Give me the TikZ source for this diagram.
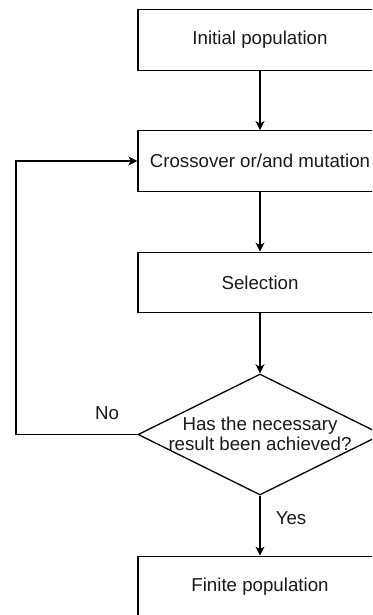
\documentclass[tikz,border=0pt]{standalone}
\usepackage{fontspec}
\setmainfont{Liberation Sans}
\usetikzlibrary{arrows.meta,shapes.geometric}
\begin{document}
\begin{tikzpicture}[x=1pt,y=-1pt,
  every node/.style={font=\fontsize{18.7}{20}\selectfont, text=black!90},
  stepbox/.style={draw=black, line width=1.3pt, minimum width=244pt, minimum height=60.5pt, inner sep=0pt},
  decision/.style={diamond, draw=black, line width=1.3pt, minimum width=244pt, minimum height=121pt, inner sep=0pt},
  flow/.style={draw=black, line width=1.3pt, -{Stealth[length=9pt,width=9pt,inset=2.5pt]}},
  lbl/.style={inner sep=0pt}]
\useasboundingbox (0,0) rectangle (372,615);
\clip (0,0) rectangle (372,615);

\node[stepbox] (init) at (260,40) {Initial population};
\node[stepbox] (cross) at (260,161) {Crossover or/and mutation};
\node[stepbox] (sel) at (260,282.5) {Selection};
\node[decision] (dec) at (260,434.5) {};
\node[lbl, align=center] (q) at (260,434) {Has the necessary\\result been achieved?};
\node[stepbox] (fin) at (260,586.5) {Finite population};

\draw[flow] (init) -- (cross);
\draw[flow] (cross) -- (sel);
\draw[flow] (sel) -- (dec.north);
\draw[flow] (dec.south) -- (fin);
\coordinate (loop) at (16,434.5);
\draw[flow] (dec.west) -- (loop) |- (cross.west);

\node[lbl] (no) at (107,413) {No};
\node[lbl] (yes) at (291,518) {Yes};
\end{tikzpicture}
\end{document}
